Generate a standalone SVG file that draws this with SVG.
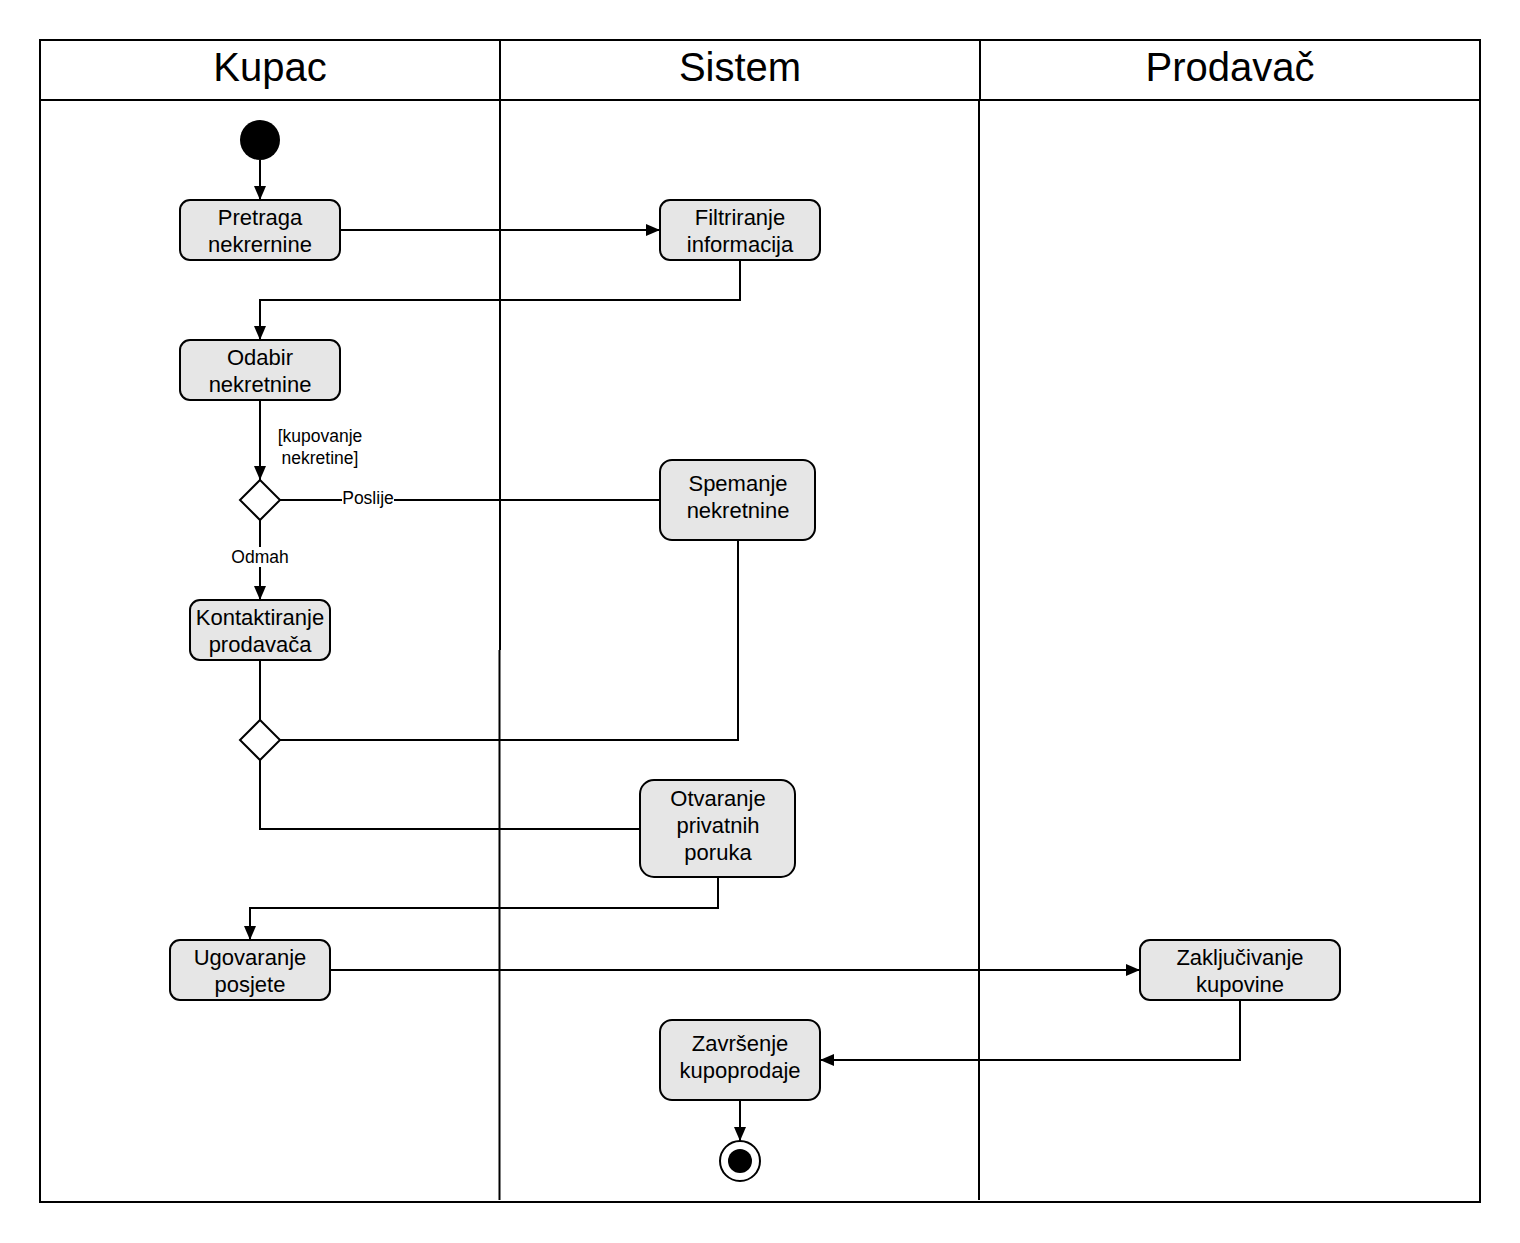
<svg xmlns="http://www.w3.org/2000/svg" width="1520" height="1243" viewBox="0 0 1520 1243">
<style>
.lane{fill:none;stroke:#000;stroke-width:2}
.title{font-family:"Liberation Sans",Arial,sans-serif;font-size:40px;text-anchor:middle;fill:#000}
.node rect{fill:#e6e6e6;stroke:#000;stroke-width:2}
.node text,.lbl{font-family:"Liberation Sans",Arial,sans-serif;font-size:22px;text-anchor:middle;fill:#000}
.lbl{font-size:17.5px}
.dia{fill:#fff;stroke:#000;stroke-width:2}
.c{fill:none;stroke:#000;stroke-width:2}
.a{marker-end:url(#ah)}
</style>
<defs>
<marker id="ah" markerWidth="14" markerHeight="12" viewBox="0 0 14 12" refX="14" refY="6" orient="auto" markerUnits="userSpaceOnUse">
<path d="M0,0 L14,6 L0,12 Z" fill="#000"/>
</marker>
</defs>
<rect width="1520" height="1243" fill="#fff"/>
<g id="lanes">
<rect class="lane" x="40" y="40" width="1440" height="1162"/>
<line class="lane" x1="40" y1="100" x2="1480" y2="100"/>
<line class="lane" x1="500" y1="40" x2="500" y2="650"/>
<line class="lane" x1="499.5" y1="650" x2="499.5" y2="1200"/>
<line class="lane" x1="980" y1="40" x2="980" y2="100"/>
<line class="lane" x1="979" y1="100" x2="979" y2="1200"/>
<text class="title" x="270" y="81">Kupac</text>
<text class="title" x="740" y="81">Sistem</text>
<text class="title" x="1230" y="81">Prodavač</text>
</g>
<g id="connectors">
<line class="c a" x1="260" y1="160" x2="260" y2="200"/>
<line class="c a" x1="340" y1="230" x2="660" y2="230"/>
<polyline class="c a" points="740,260 740,300 260,300 260,340"/>
<line class="c a" x1="260" y1="400" x2="260" y2="480"/>
<text class="lbl" x="320" y="442">[kupovanje</text>
<text class="lbl" x="320" y="464">nekretine]</text>
<line class="c" x1="280" y1="500" x2="660" y2="500"/>
<rect x="342" y="489" width="52" height="20" fill="#fff"/>
<text class="lbl" x="368" y="504">Poslije</text>
<line class="c a" x1="260" y1="520" x2="260" y2="600"/>
<rect x="228" y="547" width="64" height="20" fill="#fff"/>
<text class="lbl" x="260" y="563">Odmah</text>
<line class="c" x1="260" y1="660" x2="260" y2="720"/>
<polyline class="c" points="738,540 738,740 280,740"/>
<polyline class="c" points="260,760 260,829 640,829"/>
<polyline class="c a" points="718,877 718,908 250,908 250,940"/>
<line class="c a" x1="330" y1="970" x2="1140" y2="970"/>
<polyline class="c a" points="1240,1000 1240,1060 820,1060"/>
<line class="c a" x1="740" y1="1100" x2="740" y2="1141"/>
</g>
<g id="start"><circle cx="260" cy="140" r="20" fill="#000"/></g>
<g id="pretraga" class="node"><rect x="180" y="200" width="160" height="60" rx="10"/><text x="260" y="225">Pretraga</text><text x="260" y="252">nekrernine</text></g>
<g id="filtriranje" class="node"><rect x="660" y="200" width="160" height="60" rx="10"/><text x="740" y="225">Filtriranje</text><text x="740" y="252">informacija</text></g>
<g id="odabir" class="node"><rect x="180" y="340" width="160" height="60" rx="10"/><text x="260" y="365">Odabir</text><text x="260" y="392">nekretnine</text></g>
<g id="decision1"><polygon class="dia" points="260,480 280,500 260,520 240,500"/></g>
<g id="spemanje" class="node"><rect x="660" y="460" width="155" height="80" rx="12"/><text x="738" y="491">Spemanje</text><text x="738" y="518">nekretnine</text></g>
<g id="kontaktiranje" class="node"><rect x="190" y="600" width="140" height="60" rx="10"/><text x="260" y="625">Kontaktiranje</text><text x="260" y="652">prodavača</text></g>
<g id="merge"><polygon class="dia" points="260,720 280,740 260,760 240,740"/></g>
<g id="otvaranje" class="node"><rect x="640" y="780" width="155" height="97" rx="14"/><text x="718" y="806">Otvaranje</text><text x="718" y="833">privatnih</text><text x="718" y="860">poruka</text></g>
<g id="ugovaranje" class="node"><rect x="170" y="940" width="160" height="60" rx="10"/><text x="250" y="965">Ugovaranje</text><text x="250" y="992">posjete</text></g>
<g id="zakljucivanje" class="node"><rect x="1140" y="940" width="200" height="60" rx="10"/><text x="1240" y="965">Zaključivanje</text><text x="1240" y="992">kupovine</text></g>
<g id="zavrsenje" class="node"><rect x="660" y="1020" width="160" height="80" rx="12"/><text x="740" y="1051">Završenje</text><text x="740" y="1078">kupoprodaje</text></g>
<g id="end"><circle cx="740" cy="1161" r="20" fill="#fff" stroke="#000" stroke-width="2"/><circle cx="740" cy="1161" r="12" fill="#000"/></g>
</svg>
